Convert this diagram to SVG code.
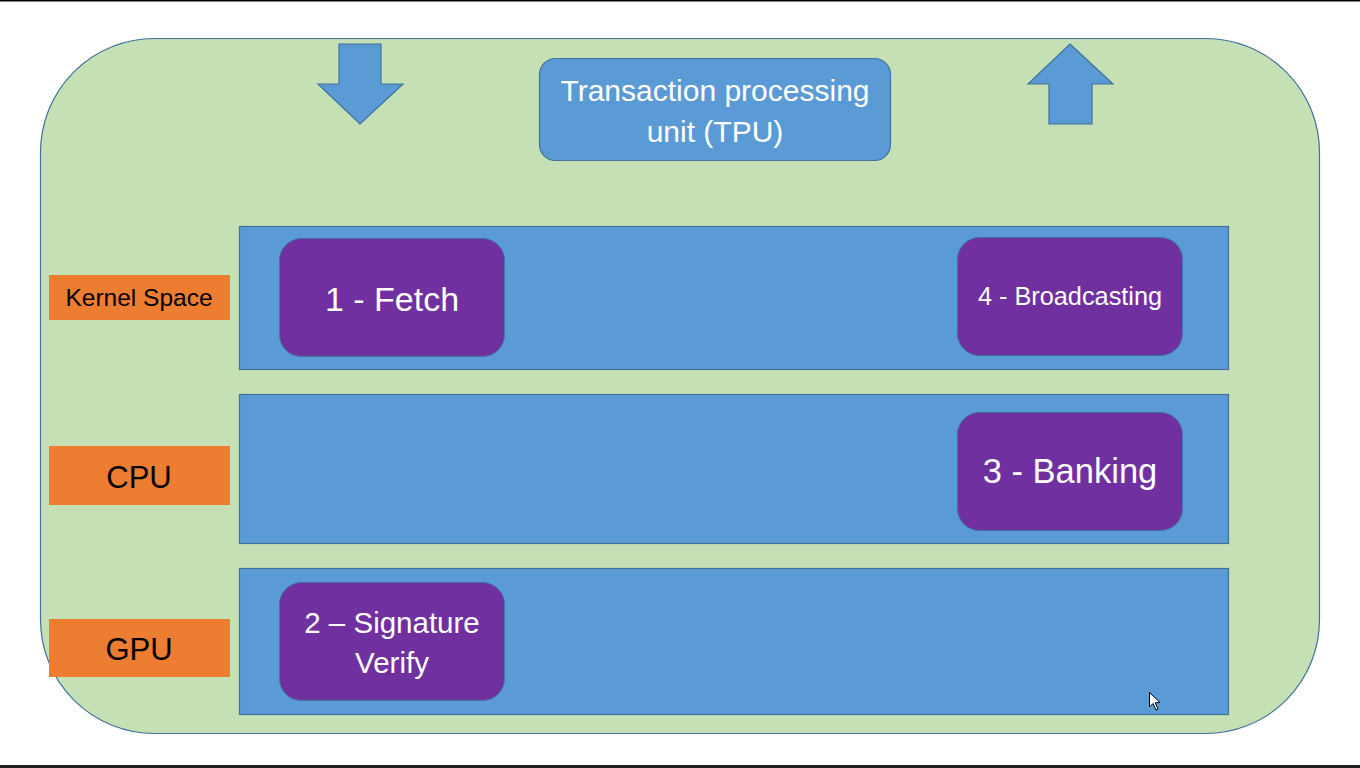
<svg xmlns="http://www.w3.org/2000/svg" width="1360" height="768" viewBox="0 0 1360 768">
<style>
.band{fill:#5B9BD5;stroke:#41719C;stroke-width:1.2}
.step{fill:#7030A0;stroke:#41719C;stroke-width:1}
.lab{fill:#ED7D31}
.arrow{fill:#5B9BD5;stroke:#41719C;stroke-width:1.2}
text{font-family:"Liberation Sans",Arial,sans-serif;text-anchor:middle}
.w{fill:#FFFFFF}
.k{fill:#000000}
</style>
<rect x="0" y="0" width="1360" height="768" fill="#FFFFFF"/>
<rect x="0" y="0" width="1360" height="1.5" fill="#000000"/>
<rect x="0" y="765" width="1360" height="3" fill="#222222"/>
<g id="tpu-container">
<rect x="40.5" y="38.5" width="1279" height="695" rx="114" ry="114" fill="#C5E0B4" stroke="#41719C" stroke-width="1.2"/>
</g>
<g id="tpu-title">
<rect x="539.5" y="58.5" width="351" height="102" rx="16" ry="16" class="band"/>
<text x="715" y="101" font-size="30" class="w">Transaction processing</text>
<text x="715" y="142" font-size="30" class="w">unit (TPU)</text>
</g>
<g id="connectors">
<polygon class="arrow" points="339,44 381,44 381,84 403,84 360,124 318,84 339,84"/>
<polygon class="arrow" points="1070,44 1113,84 1092,84 1092,124 1049,124 1049,84 1028,84"/>
</g>
<g id="kernel-row">
<rect x="239.5" y="226.5" width="989" height="143" class="band"/>
</g>
<g id="cpu-row">
<rect x="239.5" y="394.5" width="989" height="149" class="band"/>
</g>
<g id="gpu-row">
<rect x="239.5" y="568.5" width="989" height="146" class="band"/>
</g>
<g id="label-kernel">
<rect x="49" y="275" width="181" height="45" class="lab"/>
<text x="139" y="306" font-size="24.5" class="k">Kernel Space</text>
</g>
<g id="label-cpu">
<rect x="49" y="446" width="181" height="59" class="lab"/>
<text x="139" y="488" font-size="31" class="k">CPU</text>
</g>
<g id="label-gpu">
<rect x="49" y="619" width="181" height="58" class="lab"/>
<text x="139" y="660" font-size="31" class="k">GPU</text>
</g>
<g id="step-fetch">
<rect x="279.5" y="238.5" width="225" height="118" rx="22" ry="22" class="step"/>
<text x="392" y="311" font-size="34" class="w">1 - Fetch</text>
</g>
<g id="step-broadcasting">
<rect x="957.5" y="237.5" width="225" height="118" rx="22" ry="22" class="step"/>
<text x="1070" y="305" font-size="25.3" class="w">4 - Broadcasting</text>
</g>
<g id="step-banking">
<rect x="957.5" y="412.5" width="225" height="118" rx="22" ry="22" class="step"/>
<text x="1070" y="483" font-size="34.5" class="w">3 - Banking</text>
</g>
<g id="step-signature">
<rect x="279.5" y="582.5" width="225" height="118" rx="22" ry="22" class="step"/>
<text x="392" y="633" font-size="29.5" class="w">2 – Signature</text>
<text x="392" y="673" font-size="29.5" class="w">Verify</text>
</g>
<g id="cursor">
<polygon points="1149.5,692.5 1149.5,707 1153,703.5 1156,710 1158,709 1155.2,702.8 1160,702.5" fill="#FFFFFF" stroke="#000000" stroke-width="1"/>
</g>
</svg>
